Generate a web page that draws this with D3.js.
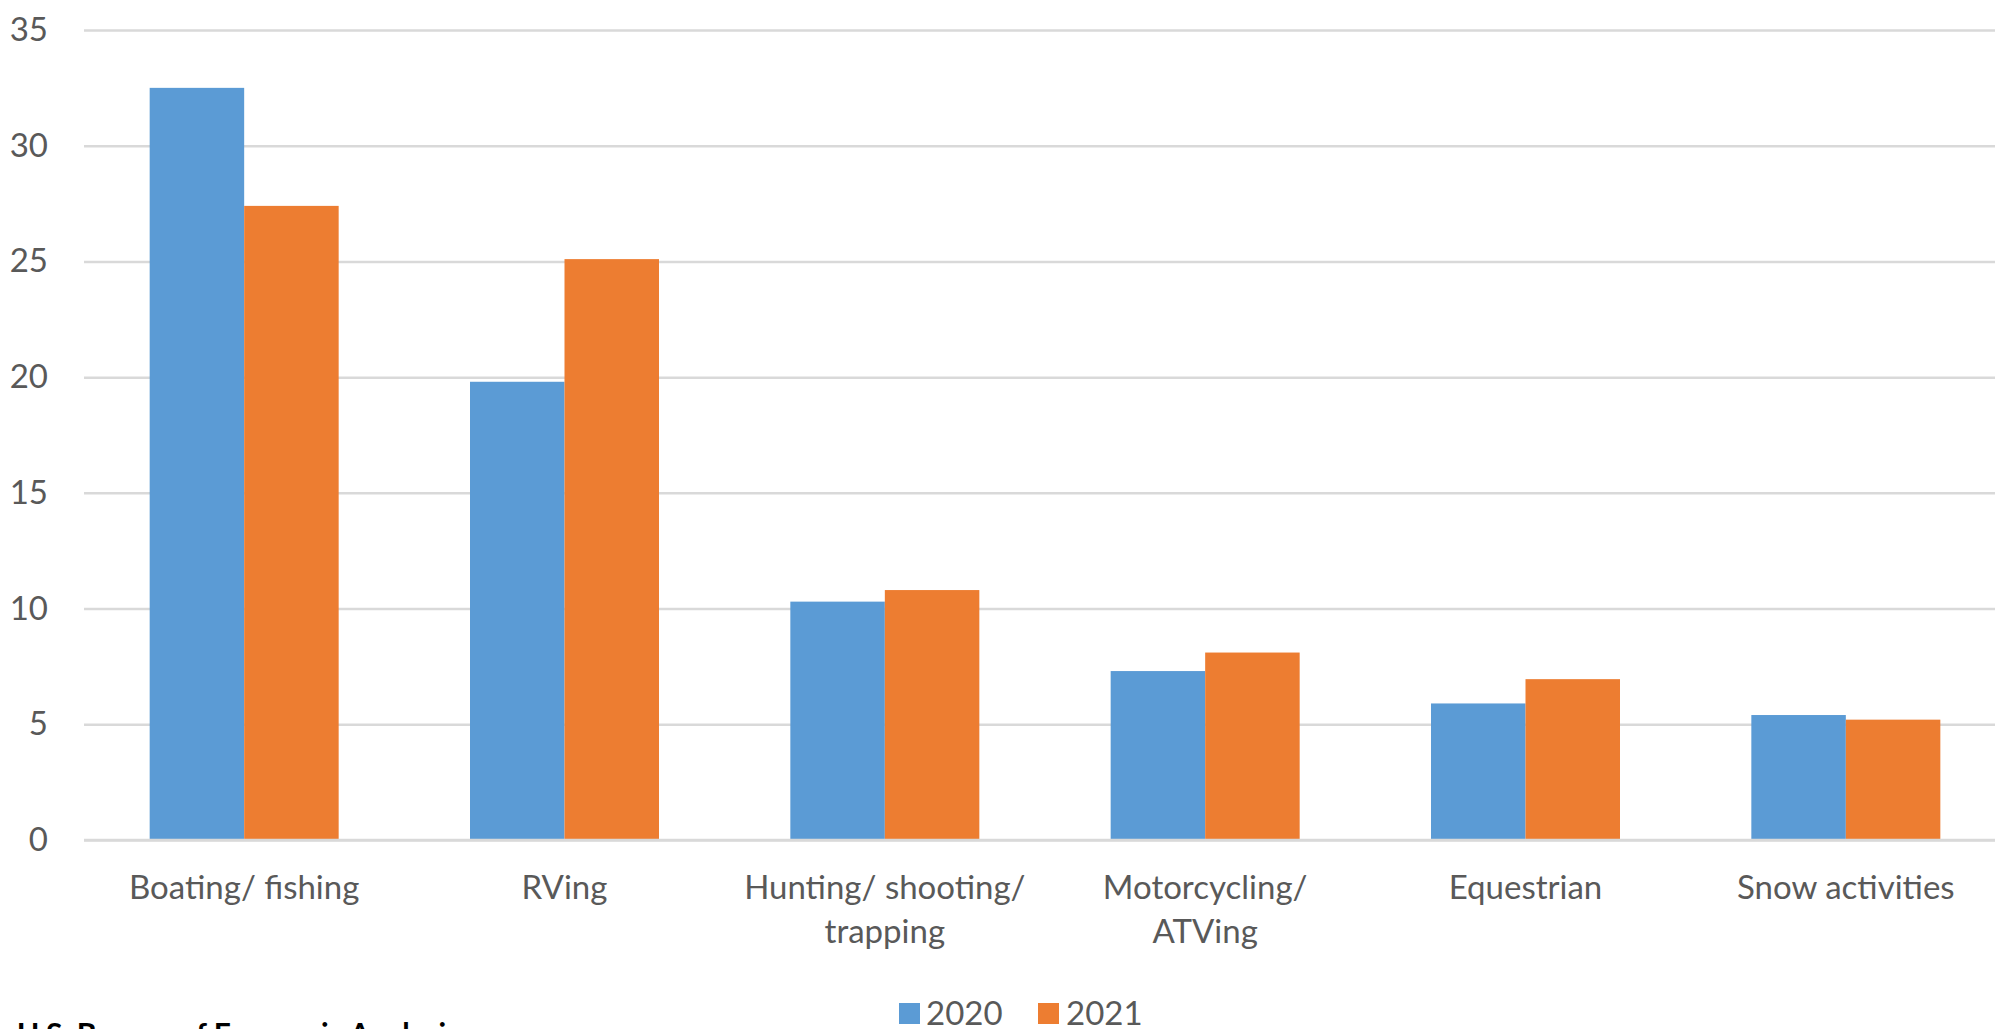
<!DOCTYPE html>
<html>
<head>
<meta charset="utf-8">
<script src="https://cdn.jsdelivr.net/npm/d3@7"></script>
<style>
  html, body { margin: 0; padding: 0; background: #ffffff; overflow: hidden; }
  svg { display: block; }
  text { font-family: Lato, "Open Sans", sans-serif; }
</style>
</head>
<body>
<svg id="chart" width="1995" height="1029"></svg>
<script>
// Outdoor recreation activities, value by year
const categories = [
  "Boating/ fishing",
  "RVing",
  "Hunting/ shooting/ trapping",
  "Motorcycling/ ATVing",
  "Equestrian",
  "Snow activities"
];
// How each category label breaks onto lines
const categoryLines = [
  ["Boating/ fishing"],
  ["RVing"],
  ["Hunting/ shooting/", "trapping"],
  ["Motorcycling/", "ATVing"],
  ["Equestrian"],
  ["Snow activities"]
];
const seriesNames = ["2020", "2021"];
const values2020 = [32.5, 19.8, 10.3, 7.3, 5.9, 5.4];
const values2021 = [27.4, 25.1, 10.8, 8.1, 6.95, 5.2];
const yTicks = [0, 5, 10, 15, 20, 25, 30, 35];
const seriesColors = ["#5B9BD5", "#ED7D31"];
const sourceNote = "U.S. Bureau of Economic Analysis";

const plot = { left: 84, right: 2006, top: 30, bottom: 840 };
const fontSize = 33;
const textColor = "#595959";
const gridColor = "#d9d9d9";

const svg = d3.select("#chart");

const x0 = d3.scaleBand()
  .domain(categories)
  .range([plot.left, plot.right])
  .paddingInner(0)
  .paddingOuter(0);

const groupWidth = x0.bandwidth() * 0.59;
const x1 = d3.scaleBand()
  .domain(seriesNames)
  .range([0, groupWidth]);

const y = d3.scaleLinear()
  .domain([0, 35])
  .range([plot.bottom, plot.top]);

const color = d3.scaleOrdinal().domain(seriesNames).range(seriesColors);

// Gridlines and value labels
const yAxis = d3.axisLeft(y)
  .tickValues(yTicks)
  .tickSize(-(plot.right - plot.left))
  .tickPadding(36)
  .tickFormat(d3.format("d"));

const gy = svg.append("g")
  .attr("transform", `translate(${plot.left},0)`)
  .call(yAxis);
gy.select(".domain").remove();
gy.selectAll(".tick line")
  .attr("stroke", gridColor)
  .attr("stroke-width", 2.5);
gy.selectAll(".tick text")
  .attr("fill", textColor)
  .style("font-size", fontSize + "px");

// Bars
const rows = categories.map((c, i) => ({
  category: c,
  values: [
    { series: seriesNames[0], value: values2020[i] },
    { series: seriesNames[1], value: values2021[i] }
  ]
}));

const groups = svg.append("g")
  .selectAll("g")
  .data(rows)
  .join("g")
  .attr("transform", d => `translate(${x0(d.category) + (x0.bandwidth() - groupWidth) / 2},0)`);

groups.selectAll("rect")
  .data(d => d.values)
  .join("rect")
  .attr("x", d => x1(d.series))
  .attr("width", x1.bandwidth())
  .attr("y", d => y(d.value))
  .attr("height", d => y(0) - y(d.value))
  .attr("fill", d => color(d.series));

// Baseline drawn over bar bottoms
svg.append("line")
  .attr("x1", plot.left).attr("x2", plot.right)
  .attr("y1", y(0)).attr("y2", y(0))
  .attr("stroke", gridColor)
  .attr("stroke-width", 2.5);

// Category axis with multi-line labels
const xAxis = d3.axisBottom(x0).tickSize(0).tickPadding(0);
const gx = svg.append("g")
  .attr("transform", `translate(0,${plot.bottom})`)
  .call(xAxis);
gx.select(".domain").remove();
gx.selectAll(".tick text")
  .attr("fill", textColor)
  .style("font-size", fontSize + "px")
  .attr("dy", null)
  .attr("y", 0)
  .each(function (d) {
    const t = d3.select(this);
    const lines = categoryLines[categories.indexOf(d)];
    t.text(null);
    lines.forEach((l, i) => {
      t.append("tspan")
        .attr("x", 0)
        .attr("y", 59 + i * 44)
        .text(l);
    });
  });

// Legend
const legendItems = [
  { name: seriesNames[0], x: 899, tx: 926 },
  { name: seriesNames[1], x: 1038, tx: 1066 }
];
const legend = svg.append("g");
legend.selectAll("rect")
  .data(legendItems)
  .join("rect")
  .attr("x", d => d.x)
  .attr("y", 1003)
  .attr("width", 21)
  .attr("height", 21)
  .attr("fill", d => color(d.name));
legend.selectAll("text")
  .data(legendItems)
  .join("text")
  .attr("x", d => d.tx)
  .attr("y", 1025)
  .attr("fill", textColor)
  .style("font-size", fontSize + "px")
  .text(d => d.name);

// Source note along the bottom edge
svg.append("text")
  .attr("x", 17)
  .attr("y", 1045)
  .attr("fill", "#000000")
  .style("font-size", "30px")
  .style("font-weight", "bold")
  .text(sourceNote);
</script>
</body>
</html>
